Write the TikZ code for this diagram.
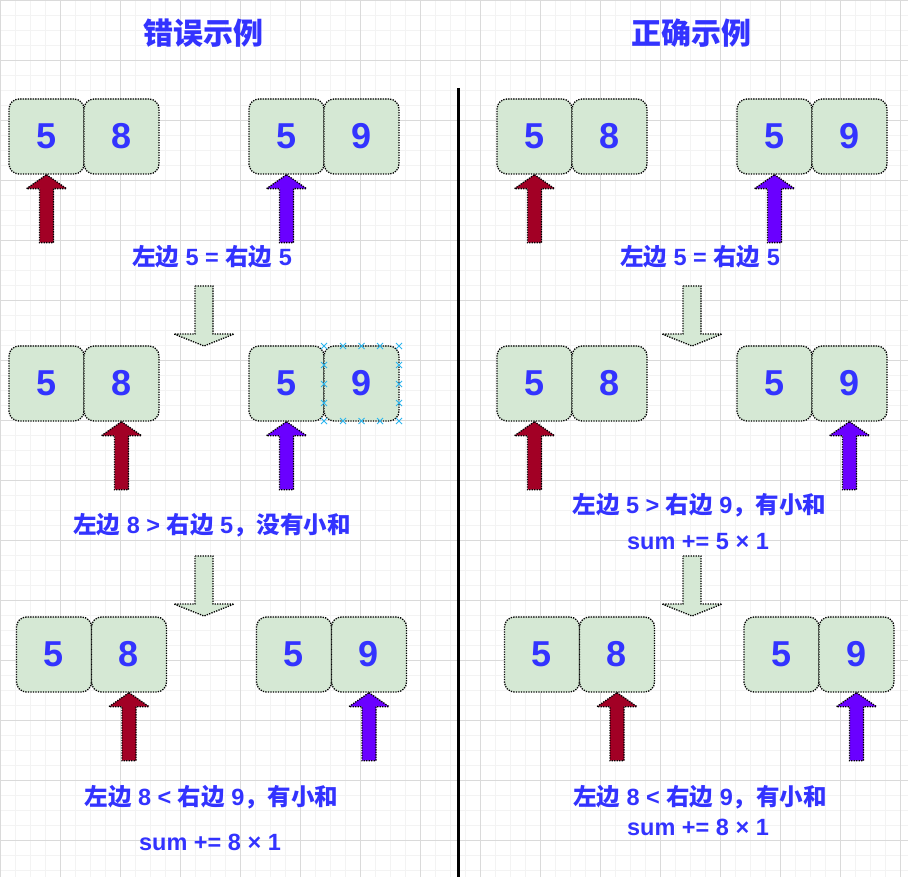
\documentclass[tikz,border=0pt]{standalone}
\usepackage{fontspec}
\setmainfont{Liberation Sans}
\newfontfamily\cjk{Noto Sans CJK SC}
\newcommand\zhtxt[1]{{\cjk #1}}
\definecolor{txtblue}{HTML}{3333FF}
\definecolor{boxfill}{HTML}{D5E8D4}
\definecolor{redarrow}{HTML}{A20025}
\definecolor{purparrow}{HTML}{6A00FF}
\definecolor{gridminor}{HTML}{F3F3F3}
\definecolor{gridmajor}{HTML}{DADADA}
\definecolor{selcyan}{HTML}{2CB5EE}
\tikzset{
  dotline/.style={draw=black, line width=1.3pt, dash pattern=on 1.3pt off 1.2pt},
  numbox/.style={dotline, fill=boxfill, rounded corners=10pt, minimum width=75pt, minimum height=75pt, inner sep=0pt,
     text=txtblue, font=\fontsize{36}{42}\selectfont\bfseries},
  caption/.style={text=txtblue, font=\fontsize{23.5}{28}\selectfont\bfseries, inner sep=0pt},
  title/.style={text=txtblue, font=\fontsize{30}{34}\selectfont\bfseries\cjk, inner sep=0pt},
  uparr/.pic={\path[pic actions] (0,0) -- (20,14) -- (7,14) -- (7,68) -- (-7,68) -- (-7,14) -- (-20,14) -- cycle;},
  downarr/.pic={\path[pic actions] (-9,0) -- (9,0) -- (9,48) -- (30,48) -- (0,60) -- (-30,48) -- (-9,48) -- cycle;},
  redup/.style={dotline, fill=redarrow},
  purpup/.style={dotline, fill=purparrow},
  greendown/.style={dotline, fill=boxfill},
  selmark/.style={draw=selcyan, line width=1pt},
}
\begin{document}
\begin{tikzpicture}[x=1pt, y=-1pt]
\useasboundingbox (0,0) rectangle (908,877);
\fill[white] (0,0) rectangle (908,877);
% grid
\foreach \gx in {0,15,...,908} {\draw[gridminor, line width=0.8pt] (\gx,0) -- (\gx,877);}
\foreach \gy in {0,15,...,877} {\draw[gridminor, line width=0.8pt] (0,\gy) -- (908,\gy);}
\foreach \gx in {0,60,...,908} {\draw[gridmajor, line width=0.9pt] (\gx,0) -- (\gx,877);}
\foreach \gy in {0,60,...,877} {\draw[gridmajor, line width=0.9pt] (0,\gy) -- (908,\gy);}

% divider
\coordinate (divtop) at (458,88);
\coordinate (divbot) at (458,877);
\draw[line width=3pt] (divtop) -- (divbot);

% titles
\node[title] (t1) at (203,33) {错误示例};
\node[title] (t2) at (691,33) {正确示例};

% ---------- left column ----------
% row 1
\node[numbox] (a1) at (46.5,136.5) {5};
\node[numbox] (a2) at (121.5,136.5) {8};
\node[numbox] (a3) at (286.5,136.5) {5};
\node[numbox] (a4) at (361.5,136.5) {9};
\pic[redup] at (a1.south) {uparr};
\pic[purpup] at (a3.south) {uparr};
\node[caption] (ca1) at (212,257) {\zhtxt{左边} 5 = \zhtxt{右边} 5};
\pic[greendown] at (204,286) {downarr};
% row 2
\node[numbox] (b1) at (46.5,383.5) {5};
\node[numbox] (b2) at (121.5,383.5) {8};
\node[numbox] (b3) at (286.5,383.5) {5};
\node[numbox] (b4) at (361.5,383.5) {9};
\pic[redup] at (b2.south) {uparr};
\pic[purpup] at (b3.south) {uparr};
% selection markers on b4
\foreach \mx/\my in {324/346,343/346,361.5/346,380/346,399/346,
                     324/421,343/421,361.5/421,380/421,399/421,
                     324/365,324/384,324/403,399/365,399/384,399/403}
  {\draw[selmark] (\mx-3,\my-3) -- (\mx+3,\my+3) (\mx-3,\my+3) -- (\mx+3,\my-3);}
\node[caption] (cb1) at (212,525) {\zhtxt{左边} 8 > \zhtxt{右边} 5\zhtxt{，没有小和}};
\pic[greendown] at (204,556) {downarr};
% row 3
\node[numbox] (c1) at (54,654.5) {5};
\node[numbox] (c2) at (129,654.5) {8};
\node[numbox] (c3) at (294,654.5) {5};
\node[numbox] (c4) at (369,654.5) {9};
\pic[redup] at (c2.south) {uparr};
\pic[purpup] at (c4.south) {uparr};
\node[caption] (cc1) at (211.5,797) {\zhtxt{左边} 8 < \zhtxt{右边} 9\zhtxt{，有小和}};
\node[caption] (cc2) at (210,842) {sum += 8 × 1};

% ---------- right column ----------
% row 1
\node[numbox] (d1) at (534.5,136.5) {5};
\node[numbox] (d2) at (609.5,136.5) {8};
\node[numbox] (d3) at (774.5,136.5) {5};
\node[numbox] (d4) at (849.5,136.5) {9};
\pic[redup] at (d1.south) {uparr};
\pic[purpup] at (d3.south) {uparr};
\node[caption] (cd1) at (700,257) {\zhtxt{左边} 5 = \zhtxt{右边} 5};
\pic[greendown] at (692,286) {downarr};
% row 2
\node[numbox] (e1) at (534.5,383.5) {5};
\node[numbox] (e2) at (609.5,383.5) {8};
\node[numbox] (e3) at (774.5,383.5) {5};
\node[numbox] (e4) at (849.5,383.5) {9};
\pic[redup] at (e1.south) {uparr};
\pic[purpup] at (e4.south) {uparr};
\node[caption] (ce1) at (699.5,505) {\zhtxt{左边} 5 > \zhtxt{右边} 9\zhtxt{，有小和}};
\node[caption] (ce2) at (698,542) {sum += 5 × 1};
\pic[greendown] at (692,556) {downarr};
% row 3
\node[numbox] (f1) at (542,654.5) {5};
\node[numbox] (f2) at (617,654.5) {8};
\node[numbox] (f3) at (781.5,654.5) {5};
\node[numbox] (f4) at (856.5,654.5) {9};
\pic[redup] at (f2.south) {uparr};
\pic[purpup] at (f4.south) {uparr};
\node[caption] (cf1) at (700,797) {\zhtxt{左边} 8 < \zhtxt{右边} 9\zhtxt{，有小和}};
\node[caption] (cf2) at (698,827) {sum += 8 × 1};
\end{tikzpicture}
\end{document}
